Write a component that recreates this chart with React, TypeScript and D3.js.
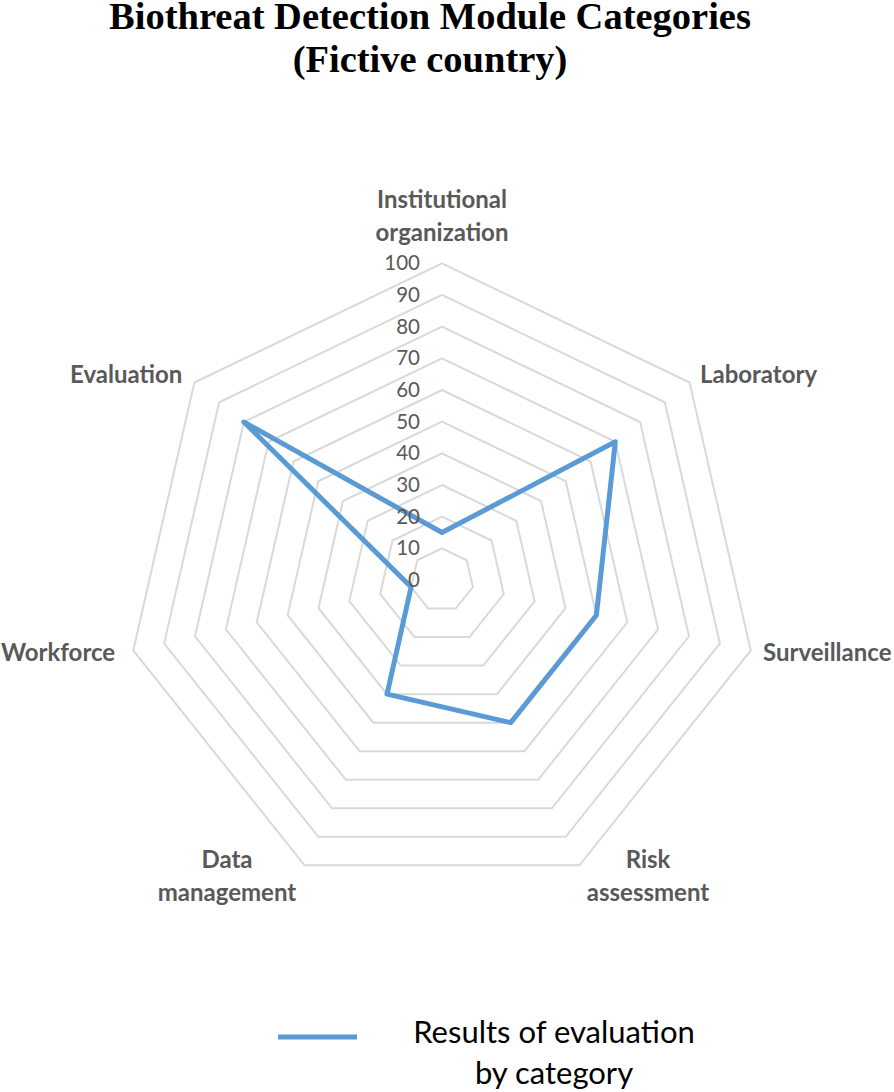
import React from 'react';
import * as d3 from 'd3';

const categories = [
  'Institutional organization',
  'Laboratory',
  'Surveillance',
  'Risk assessment',
  'Data management',
  'Workforce',
  'Evaluation',
];
const scores = [15, 70, 50, 50, 40, 10, 80];
const ringTicks = [0, 10, 20, 30, 40, 50, 60, 70, 80, 90, 100];
const seriesName = ['Results of evaluation', 'by category'];

const width = 894;
const height = 1092;
const cx = 442;
const cy = 580;
const radius = 316.7;

// label placement per category: [x, y of first baseline, anchor]
const labelPos: [number, number, string][] = [
  [442, 208, 'middle'],
  [700, 383, 'start'],
  [763, 661, 'start'],
  [648, 868, 'middle'],
  [227, 868, 'middle'],
  [1, 661, 'start'],
  [70, 383, 'start'],
];

const labelLines: Record<string, string[]> = {
  'Institutional organization': ['Institutional', 'organization'],
  'Risk assessment': ['Risk', 'assessment'],
  'Data management': ['Data', 'management'],
};

export default function App() {
  const r = d3.scaleLinear().domain([0, 100]).range([0, radius]);
  const angle = d3
    .scaleLinear()
    .domain([0, categories.length])
    .range([0, 2 * Math.PI]);

  const radial = d3
    .lineRadial<number>()
    .angle((d, i) => angle(i))
    .radius((d) => r(d))
    .curve(d3.curveLinearClosed);

  const rings = ringTicks.filter((t) => t > 0);

  return (
    <svg width={width} height={height} style={{ position: 'absolute', left: 0, top: 0 }}>
      <rect width={width} height={height} fill="#fff" />
      <g fontFamily="'Liberation Serif', 'Times New Roman', serif" fontWeight="bold" fontSize={38.5} fill="#000" textAnchor="middle">
        <text x={430} y={29}>Biothreat Detection Module Categories</text>
        <text x={430} y={72}>(Fictive country)</text>
      </g>

      <g transform={`translate(${cx},${cy})`}>
        {rings.map((t) => (
          <path
            key={t}
            d={radial(categories.map(() => t)) || ''}
            fill="none"
            stroke="#d9d9d9"
            strokeWidth={2}
          />
        ))}
        <path
          d={radial(scores) || ''}
          fill="none"
          stroke="#5b9bd5"
          strokeWidth={5}
          strokeLinejoin="round"
        />
      </g>

      <g fontFamily="Lato, 'Open Sans', sans-serif" fontSize={20.5} fill="#595959" textAnchor="end">
        {ringTicks.map((t) => (
          <text key={t} x={420} y={cy - r(t) + 7}>
            {t}
          </text>
        ))}
      </g>

      <g fontFamily="Lato, 'Open Sans', sans-serif" fontWeight="bold" fontSize={24} fill="#595959">
        {categories.map((c, i) => {
          const lines = labelLines[c] || [c];
          const [x, y, anchor] = labelPos[i];
          return (
            <text key={c} x={x} y={y} textAnchor={anchor}>
              {lines.map((l, j) => (
                <tspan key={j} x={x} y={y + j * 32.5}>
                  {l}
                </tspan>
              ))}
            </text>
          );
        })}
      </g>

      <line x1={278} x2={357} y1={1037} y2={1037} stroke="#5b9bd5" strokeWidth={5} />
      <g fontFamily="Lato, 'Open Sans', sans-serif" fontSize={31} fill="#000" textAnchor="middle">
        {seriesName.map((s, i) => (
          <text key={s} x={554} y={1043 + i * 41}>
            {s}
          </text>
        ))}
      </g>
    </svg>
  );
}
